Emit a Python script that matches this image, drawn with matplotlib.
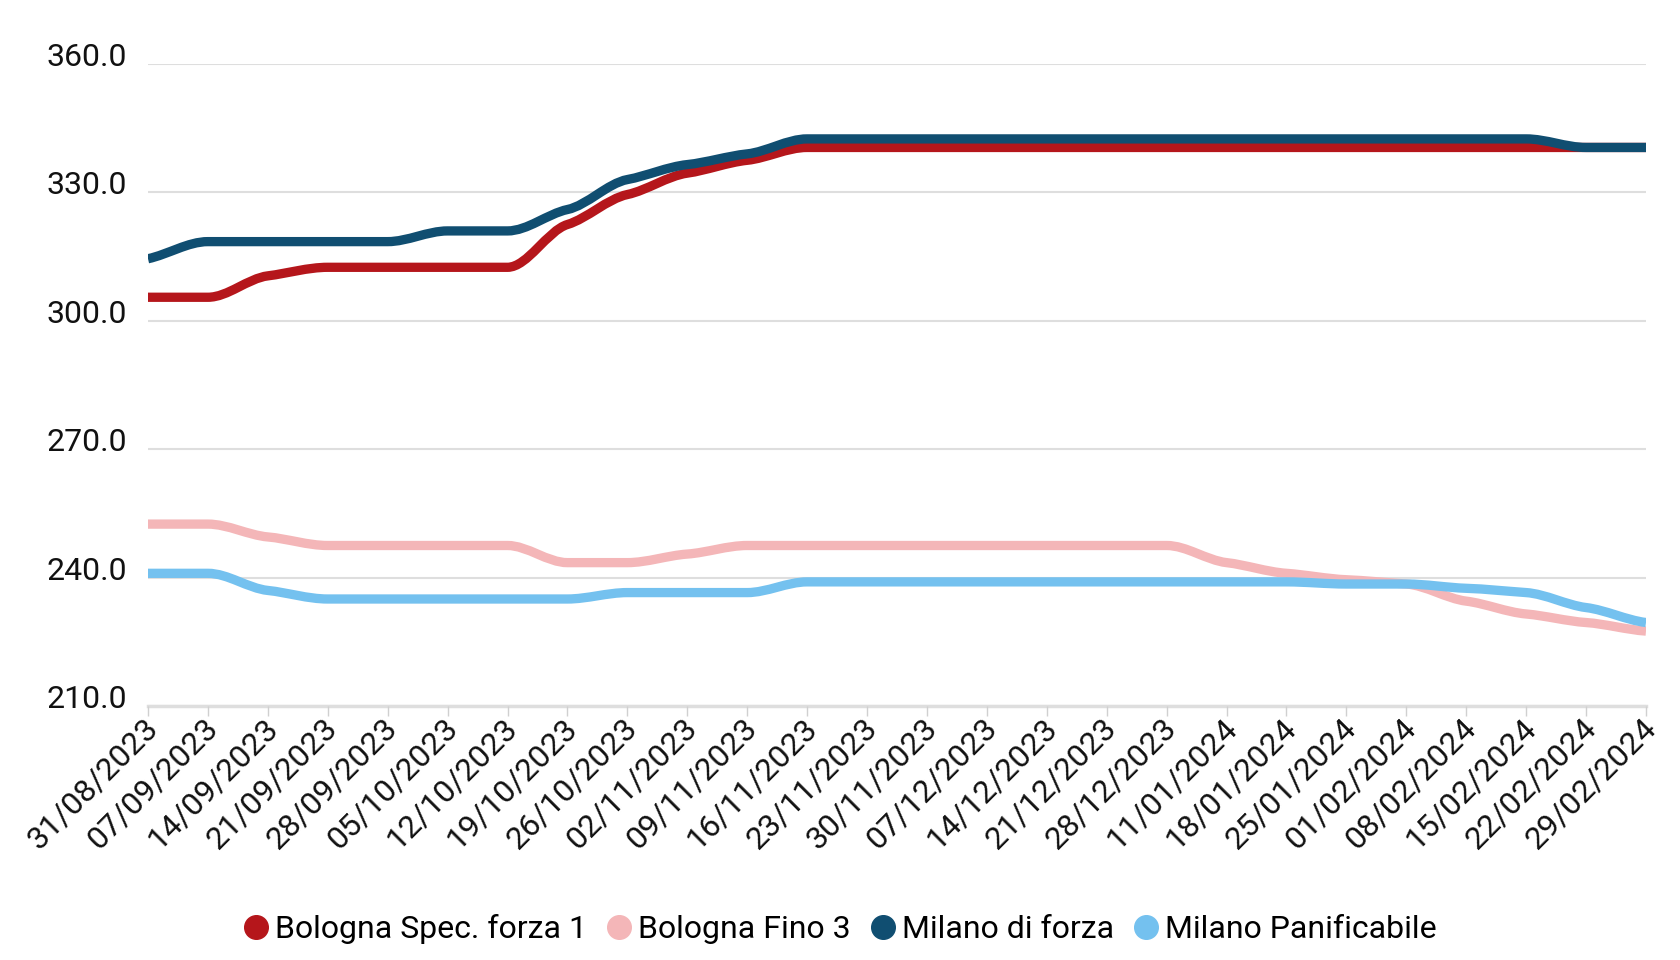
import numpy as np
import matplotlib
matplotlib.use("Agg")
import matplotlib.pyplot as plt
from matplotlib.path import Path
from matplotlib.patches import PathPatch
from matplotlib.lines import Line2D
import matplotlib.transforms as mtransforms

plt.rcParams['font.family'] = ['Roboto', 'DejaVu Sans']

dates = ["31/08/2023", "07/09/2023", "14/09/2023", "21/09/2023", "28/09/2023",
         "05/10/2023", "12/10/2023", "19/10/2023", "26/10/2023", "02/11/2023",
         "09/11/2023", "16/11/2023", "23/11/2023", "30/11/2023", "07/12/2023",
         "14/12/2023", "21/12/2023", "28/12/2023", "11/01/2024", "18/01/2024",
         "25/01/2024", "01/02/2024", "08/02/2024", "15/02/2024", "22/02/2024",
         "29/02/2024"]

bologna_spec_forza1 = [305.5, 305.5, 310.5, 312.5, 312.5, 312.5, 312.5, 322.5, 329.5,
                       334.5, 337.5, 340.5, 340.5, 340.5, 340.5, 340.5, 340.5, 340.5,
                       340.5, 340.5, 340.5, 340.5, 340.5, 340.5, 340.5, 340.5]
bologna_fino3 = [252.5, 252.5, 249.5, 247.5, 247.5, 247.5, 247.5, 243.5, 243.5,
                 245.5, 247.5, 247.5, 247.5, 247.5, 247.5, 247.5, 247.5, 247.5,
                 243.5, 241.0, 239.5, 238.5, 234.5, 231.5, 229.5, 227.5]
milano_forza = [314.5, 318.5, 318.5, 318.5, 318.5, 321.0, 321.0, 326.0, 333.0,
                336.5, 339.0, 342.5, 342.5, 342.5, 342.5, 342.5, 342.5, 342.5,
                342.5, 342.5, 342.5, 342.5, 342.5, 342.5, 340.5, 340.5]
milano_panificabile = [241.0, 241.0, 237.0, 235.0, 235.0, 235.0, 235.0, 235.0, 236.5,
                       236.5, 236.5, 239.0, 239.0, 239.0, 239.0, 239.0, 239.0, 239.0,
                       239.0, 239.0, 238.5, 238.5, 237.5, 236.5, 233.0, 229.5]

series_names = ["Bologna Spec. forza 1", "Bologna Fino 3", "Milano di forza", "Milano Panificabile"]
series_values = [bologna_spec_forza1, bologna_fino3, milano_forza, milano_panificabile]
series_colors = ["#B5161B", "#F4B6B8", "#104E71", "#74C1EF"]

y_ticks = [210, 240, 270, 300, 330, 360]


def monotone_path(xs, ys, tension=0.5):
    """Monotone cubic curve with tension, rendered as Bezier path."""
    xs = np.asarray(xs, float)
    ys = np.asarray(ys, float)
    n = len(xs)
    t = np.zeros(n)
    for i in range(1, n - 1):
        h0 = xs[i] - xs[i - 1]
        h1 = xs[i + 1] - xs[i]
        s0 = (ys[i] - ys[i - 1]) / h0
        s1 = (ys[i + 1] - ys[i]) / h1
        p = (s0 * h1 + s1 * h0) / (h0 + h1)
        t[i] = (np.sign(s0) + np.sign(s1)) * min(abs(s0), abs(s1), 0.5 * abs(p))
    h = xs[1] - xs[0]
    t[0] = (3 * (ys[1] - ys[0]) / h - t[1]) / 2
    h = xs[-1] - xs[-2]
    t[-1] = (3 * (ys[-1] - ys[-2]) / h - t[-2]) / 2
    verts = [(xs[0], ys[0])]
    codes = [Path.MOVETO]
    for i in range(n - 1):
        dx = (xs[i + 1] - xs[i]) / 3
        verts += [(xs[i] + dx, ys[i] + dx * t[i] * tension),
                  (xs[i + 1] - dx, ys[i + 1] - dx * t[i + 1] * tension),
                  (xs[i + 1], ys[i + 1])]
        codes += [Path.CURVE4] * 3
    return Path(verts, codes)


fig = plt.figure(figsize=(16.8, 9.6), dpi=100)
ax = fig.add_axes([148 / 1680, 1 - 706 / 960, (1646 - 148) / 1680, (706 - 64) / 960])

x = np.arange(len(dates))
for name, vals, col in zip(series_names, series_values, series_colors):
    patch = PathPatch(monotone_path(x, vals), facecolor='none', edgecolor=col,
                      lw=6.7, capstyle='butt', joinstyle='round', zorder=3)
    ax.add_patch(patch)

ax.set_xlim(0, len(dates) - 1)
ax.set_ylim(210, 360)

ax.set_yticks(y_ticks)
ax.set_yticklabels([f"{v:.1f}" for v in y_ticks])
ax.set_xticks(x)
ax.set_xticklabels(dates)

ax.grid(axis='y', color='#dedede', lw=1.5, zorder=0)
ax.grid(axis='x', visible=False)
for s in ['top', 'right', 'left']:
    ax.spines[s].set_visible(False)
ax.spines['bottom'].set_color('#dedede')
ax.spines['bottom'].set_linewidth(2.5)
ax.spines['bottom'].set_zorder(1)

ax.tick_params(axis='y', length=0, pad=15, labelsize=23, labelcolor='#111111')
ax.tick_params(axis='x', length=7, width=1, color='#d0d0d0', pad=4, labelsize=23,
               labelcolor='#111111')

down = mtransforms.ScaledTranslation(0, -2 / 100, fig.dpi_scale_trans)
for lab in ax.get_yticklabels():
    lab.set_verticalalignment('baseline')
    lab.set_transform(lab.get_transform() + down)

shift = mtransforms.ScaledTranslation(-5 / 100, 8 / 100, fig.dpi_scale_trans)
for lab in ax.get_xticklabels():
    lab.set_rotation(45)
    lab.set_horizontalalignment('right')
    lab.set_verticalalignment('top')
    lab.set_rotation_mode('anchor')
    lab.set_transform(lab.get_transform() + shift)

handles = [Line2D([], [], marker='o', linestyle='none', markersize=17,
                  markerfacecolor=c, markeredgecolor=c) for c in series_colors]
fig.legend(handles, series_names, loc='center', bbox_to_anchor=(0.5, 1 - 929 / 960),
           ncol=4, frameon=False, fontsize=23, handlelength=0.8, handletextpad=0.2,
           columnspacing=0.6, borderpad=0)

fig.savefig("out.png", dpi=100, facecolor='white')
